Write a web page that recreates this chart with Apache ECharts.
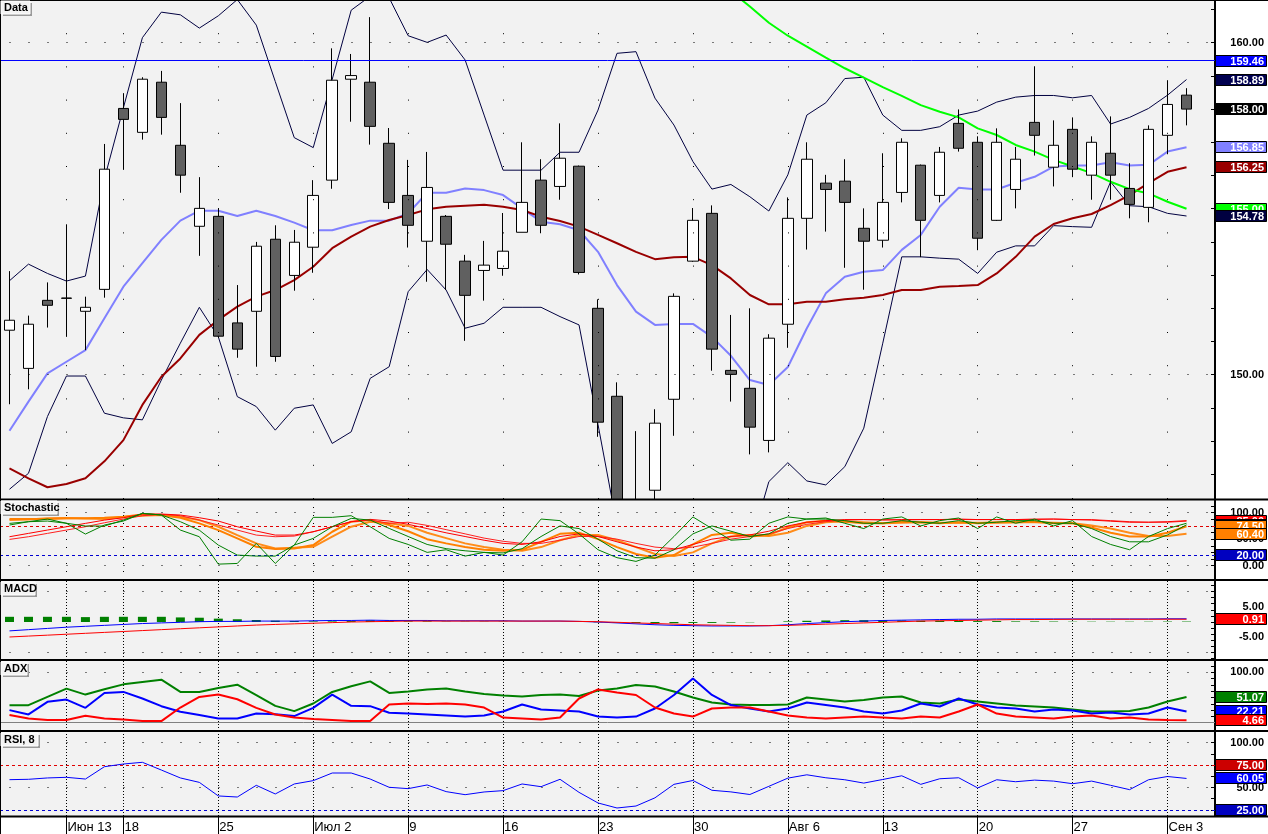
<!DOCTYPE html>
<html><head><meta charset="utf-8">
<script src="https://cdn.jsdelivr.net/npm/echarts@6/dist/echarts.min.js"></script>
<style>html,body{margin:0;padding:0;background:#fff}#c{width:1268px;height:834px}</style>
</head><body><div id="c"></div>
<script>
// ---------- DATA ----------
const dates = ['06-08','06-11','06-12','06-13','06-14','06-15','06-18','06-19','06-20','06-21','06-22','06-25','06-26','06-27','06-28','06-29',
'07-02','07-03','07-04','07-05','07-06','07-09','07-10','07-11','07-12','07-13','07-16','07-17','07-18','07-19','07-20','07-23','07-24','07-25','07-26','07-27','07-30','07-31',
'08-01','08-02','08-03','08-06','08-07','08-08','08-09','08-10','08-13','08-14','08-15','08-16','08-17','08-20','08-21','08-22','08-23','08-24','08-27','08-28','08-29','08-30','08-31',
'09-03','09-04'];
const tickIndex = [3,6,11,16,21,26,31,36,41,46,51,56,61];
const tickText  = ['Июн 13','18','25','Июл 2','9','16','23','30','Авг 6','13','20','27','Сен 3'];

const open  = [151.34,150.19,152.24,152.30,151.91,152.57,158.02,157.30,158.81,156.91,154.47,154.77,151.56,151.91,154.08,152.99,153.84,155.86,158.90,158.81,156.97,155.40,154.02,154.77,153.42,153.14,153.20,154.29,155.86,155.67,156.28,152.00,149.35,145.70,146.52,149.26,153.42,154.86,150.13,149.59,148.02,151.52,154.71,155.77,155.83,154.41,154.05,155.49,156.31,155.40,157.57,157.00,154.65,155.58,157.60,156.25,157.39,156.01,156.67,155.61,155.04,157.21,158.42];
const high  = [153.12,151.78,152.78,154.53,152.35,156.95,158.48,158.96,159.15,158.18,155.95,155.02,152.70,154.00,154.50,154.36,155.86,159.83,159.66,160.77,157.43,156.47,156.71,154.81,153.61,154.03,154.87,157.00,156.49,157.57,156.30,152.27,149.77,148.30,148.96,152.45,155.02,155.10,151.80,152.00,151.22,155.34,157.00,156.02,156.49,155.01,156.67,157.12,156.33,156.86,157.99,157.18,157.42,156.86,159.29,157.66,157.75,157.18,157.78,156.37,157.51,158.87,158.63];
const low   = [149.11,149.56,151.42,151.14,150.74,152.32,156.17,157.08,157.23,155.48,153.58,151.11,150.51,150.24,150.39,152.53,153.07,155.60,157.62,156.93,154.99,153.83,152.80,152.55,151.02,152.23,152.98,154.29,154.26,155.27,153.02,148.13,145.40,145.20,146.00,148.16,153.40,150.12,149.19,147.60,147.66,150.81,153.77,154.31,153.22,152.56,153.83,155.19,153.54,155.19,156.72,153.75,154.63,155.01,156.60,155.67,155.95,155.27,155.27,154.71,154.59,156.64,157.51];
const close = [151.64,151.52,152.09,152.31,152.03,156.19,157.69,158.90,157.75,156.01,155.01,151.16,150.77,153.87,150.55,153.99,155.40,158.87,159.01,157.48,155.19,154.50,155.64,153.93,152.39,153.30,153.72,155.19,154.50,156.52,153.08,148.57,145.90,146.10,148.54,152.36,154.65,150.77,150.01,148.42,151.10,154.71,156.49,155.58,155.19,154.02,155.19,157.00,154.65,156.70,156.82,154.11,157.00,156.49,157.21,156.91,156.19,157.00,156.01,155.13,157.39,158.14,158.00];

const bbUpper = [152.83,153.33,153.05,152.82,152.97,155.90,158.04,160.15,160.92,160.84,160.44,160.81,161.30,160.53,158.83,157.14,156.84,158.90,160.98,161.40,161.35,160.21,160.01,160.23,159.48,157.82,156.16,156.16,156.16,156.70,156.70,157.97,159.68,159.73,158.33,157.52,156.42,155.59,155.73,155.36,154.93,156.02,157.82,158.19,158.92,158.96,157.82,157.36,157.36,157.47,157.82,157.94,158.21,158.36,158.41,158.41,158.34,158.41,157.55,157.75,158.02,158.42,158.89];
const bbMiddle = [148.31,149.19,150.04,150.39,150.74,151.70,152.65,153.36,154.06,154.64,154.94,154.94,154.78,154.94,154.78,154.58,154.35,154.35,154.51,154.64,154.64,154.86,155.48,155.48,155.61,155.56,155.41,155.01,154.61,154.53,154.35,153.70,152.70,151.90,151.50,151.53,151.53,151.14,150.57,149.84,149.69,150.23,151.40,152.45,152.95,153.10,153.15,153.76,154.21,155.06,155.63,155.58,155.58,155.78,155.96,156.27,156.30,156.30,156.40,156.30,156.32,156.72,156.85];
const bbLower = [146.55,147.03,148.74,149.96,149.96,148.84,148.70,148.64,149.84,150.95,152.03,151.14,149.34,149.04,148.33,148.99,149.09,147.93,148.28,149.89,150.24,152.50,153.17,152.55,151.40,151.55,152.03,152.03,152.03,151.75,151.50,148.50,145.45,145.00,144.80,144.60,144.60,144.30,144.50,144.80,146.78,147.35,146.80,146.68,147.23,148.39,150.95,153.55,153.55,153.51,153.48,153.05,153.69,153.88,153.88,154.49,154.46,154.44,155.81,155.09,155.06,154.86,154.78];
const emaRed = [147.18,146.88,146.61,146.71,146.88,147.39,148.03,149.09,149.94,150.49,151.20,151.65,152.05,152.35,152.55,152.85,153.25,153.81,154.16,154.46,154.66,154.81,154.98,155.06,155.09,155.12,155.06,154.96,154.76,154.63,154.46,154.21,153.96,153.70,153.48,153.54,153.55,153.30,152.90,152.40,152.12,152.12,152.20,152.20,152.27,152.32,152.40,152.55,152.55,152.65,152.67,152.70,153.05,153.55,154.16,154.54,154.71,154.84,155.11,155.41,155.77,156.11,156.25];
const trendGreen = [null,null,null,null,null,null,null,null,null,null,null,null,null,null,null,null,null,null,null,null,null,null,null,null,null,null,null,null,null,null,null,null,null,null,null,null,162.60,162.05,161.55,161.09,160.60,160.21,159.88,159.55,159.23,158.95,158.66,158.40,158.12,157.92,157.75,157.42,157.22,156.92,156.72,156.47,156.27,156.07,155.81,155.59,155.46,155.21,155.00];
const levelBlue = 159.46;

const stochGreen1 = [76.7,83,88,80,59.6,76.7,84.2,98.7,95.6,67.2,54.6,2.8,4.1,42,4.1,38.8,91.2,91.2,94.3,73.5,51.4,40,25,30,18,25,20,45,88,85,60,30,15,8,20,55,92,70,48,50,80,92,88,90,80,70,88,92,75,85,90,70,92,80,88,75,85,55,40,30,55,70,80];
const stochGreen2 = [79.8,83,84.2,80,74.8,74.8,86,98.7,95.6,83,67,38.8,19.9,18,18,38.8,51.4,73.5,89.3,86,70.3,55,40,32,28,25,24,32,55,75,70,50,28,15,14,30,60,75,65,55,60,80,88,88,85,80,80,85,82,80,85,80,82,85,85,80,80,70,55,45,45,58,77];
const stochRed1 = [54.6,60.9,67.2,73.5,79.8,86,90.5,97.5,97.5,95.6,90.5,84.2,73.5,65.3,57.7,57.7,64,73.5,83,87.4,84.2,78,70,62,55,48,42,40,45,55,60,55,45,35,28,30,40,50,55,58,65,75,82,85,87,87,86,87,87,87,88,87,87,87,88,88,87,86,84,82,82,83,85];
const stochRed2 = [49.5,54.6,60.9,67.2,73.5,81,88,94.3,96.8,94.3,86,76.7,67.2,57.7,54.6,55.8,64,73.5,83,86,79.8,82,76,68,60,52,46,42,42,48,55,55,50,42,35,32,35,42,50,55,60,70,78,83,86,87,87,86,87,87,87,87,87,87,87,88,87,87,85,83,82,82,84];
const stochOrange1 = [88,88,88,89.3,89.3,90.5,92.4,96.8,95.6,90.5,79.8,67,51.4,35.6,31.2,32.5,38.8,64,83,86,76.7,65,50,42,35,30,28,30,45,60,62,50,35,22,15,20,40,58,62,55,58,72,82,85,83,80,80,83,82,80,82,80,82,82,83,80,80,72,62,55,55,62,74.5];
const stochOrange2 = [86,87,89.3,90,89,88,92,94.3,95.6,92,86,73.5,57.7,42,32.5,33.8,35.6,54.6,73.5,83,80,75,62,52,42,35,30,28,35,48,58,58,48,35,22,18,25,42,55,58,56,62,75,82,84,82,80,81,82,81,81,81,81,82,82,81,80,76,70,62,56,56,60.4];
const stochLevels = [75, 20];

const macdBlue = [-2.9,-2.5,-2.1,-1.7,-1.4,-1.1,-0.8,-0.5,-0.3,-0.1,0.1,0.2,0.2,0.3,0.3,0.3,0.4,0.5,0.5,0.6,0.5,0.5,0.5,0.4,0.4,0.4,0.4,0.3,0.3,0.3,0.2,0.0,-0.3,-0.6,-0.9,-1.1,-1.2,-1.3,-1.3,-1.3,-1.2,-0.9,-0.5,-0.2,0.1,0.3,0.5,0.6,0.7,0.8,0.9,0.9,1.0,1.0,1.0,1.0,1.0,1.0,1.0,1.0,1.0,1.05,1.05];
const macdRed = [-4.9,-4.6,-4.3,-4.0,-3.7,-3.4,-3.1,-2.8,-2.5,-2.2,-1.9,-1.6,-1.3,-1.0,-0.8,-0.6,-0.4,-0.2,0.0,0.1,0.2,0.3,0.3,0.3,0.3,0.3,0.3,0.3,0.3,0.3,0.2,0.1,-0.1,-0.3,-0.5,-0.7,-0.9,-1.0,-1.1,-1.2,-1.2,-1.1,-0.9,-0.7,-0.5,-0.3,-0.1,0.1,0.3,0.4,0.5,0.6,0.7,0.8,0.8,0.85,0.9,0.9,0.9,0.9,0.9,0.91,0.91];
const macdHist = [1.7,1.7,1.7,1.7,1.6,1.7,1.7,1.7,1.7,1.5,1.4,1.1,0.9,0.65,0.45,0.33,0.2,0.2,0.3,0.55,0.45,0.2,0.2,0.1,0.1,0.1,0.1,0.0,0.0,0.0,0.0,-0.1,-0.2,-0.3,-0.4,-0.4,-0.3,-0.3,-0.2,-0.1,0.0,0.2,0.4,0.5,0.6,0.6,0.6,0.5,0.4,0.4,0.4,0.3,0.3,0.2,0.2,0.15,0.1,0.1,0.1,0.1,0.1,0.14,0.14];

const adxGreen = [34.7,34.7,51.2,67.7,55.8,66.3,76.2,80.9,85.5,61.1,61.1,69,75.6,54.5,33.3,22.8,38,61.1,72.3,82.2,59.1,62,66,68,62,57,54,52,55,56,53,64,68,75,72,62,50,40,36,35,35,36,50,46,42,45,50,52,40,38,46,42,38,34,32,30,26,22,22,23,30,42,51.07];
const adxBlue = [24.8,16.2,41.3,45.9,29.4,59.1,61.1,47.9,32.7,21.5,14.9,8.3,8.3,18.2,16.8,12.9,29.4,55.8,33.3,32.7,19.5,18,16,14,12,14,22,36,26,24,22,12,10,12,28,55,88,55,35,28,22,28,40,35,30,22,18,24,38,32,48,36,30,28,22,26,24,18,20,16,18,30,22.21];
const adxRed = [14.9,8.3,5,5,13.5,8.3,6.3,3,3,30,51.2,55.8,46.5,29.4,16.2,10.2,6.9,5,3,3,36,38,37,38,36,30,10,8,6,10,48,66,60,55,30,18,12,28,30,30,22,14,10,8,10,12,10,8,12,10,22,36,18,12,10,8,12,14,8,10,6,5,4.66];

const rsi = [58.7,59.1,60.6,61.3,59.4,73.1,76.1,78,69.4,60.6,55.7,40.6,39.4,52.4,42.8,53.9,57.6,66.1,66.1,59.4,50.2,48.7,52.8,45.4,42,45,46.5,53.9,50.9,59.1,44.6,32.8,27.2,29.4,38.5,53.5,57.8,46.9,45.1,42.2,51.3,60.4,64.1,60.8,58.6,54.9,58.9,63,53.5,59.7,60.8,49.5,58.6,56.4,58.2,57.1,54.2,57.1,52.4,47.6,58.6,62.2,60.05];
const rsiLevels = [75, 25];

// ---------- LAYOUT ----------
const FONT = 'Liberation Sans';
const cats = dates.concat(['']);
const GL = -2.2, GR = 53;
const panels = [
  {top:0,   height:499, min:146.256, max:161.286, labels:[150,160], ticks:[147,148,149,150,151,152,153,154,155,156,157,158,159,160,161]},
  {top:500, height:80,  min:-27.2,  max:124.0,   labels:[0,50,100], ticks:[0,12.5,25,37.5,50,62.5,75,87.5,100,112.5]},
  {top:580, height:80,  min:-12.42, max:13.73,   labels:[-5,0,5], ticks:[-12,-10,-8,-6,-4,-2,0,2,4,6,8,10,12]},
  {top:660, height:71,  min:-16.8,  max:124.75,  labels:[0,50,100], ticks:[0,12.5,25,37.5,50,62.5,75,87.5,100,112.5]},
  {top:731, height:85,  min:18.3,   max:112.8,   labels:[50,100], ticks:[25,37.5,50,62.5,75,87.5,100,112.5]}
];
// sub-panel grids sit above the price panel so over-range candles are hidden under them
const grids = panels.map((p,k) => ({left:GL, right:GR, top:p.top, height:p.height, show:true, backgroundColor:'#f2f2f2', borderWidth:0, z: k===0 ? 0 : 4}));
const xAxes = panels.map((p,k) => {
  const last = k === panels.length-1;
  const isTick = (i) => tickIndex.indexOf(i) >= 0;
  return {type:'category', gridIndex:k, data:cats, boundaryGap:true, z: k===0?0:4,
    axisLine:{show:false},
    axisTick: last ? {show:true, alignWithLabel:true, interval:(i)=>isTick(i), length:18, lineStyle:{color:'#000', width:1}} : {show:false},
    axisLabel: last ? {show:true, interval:(i)=>isTick(i), formatter:(v,i)=>tickText[tickIndex.indexOf(i)] || '', align:'left', margin:5, padding:[0,0,0,1],
      color:'#000', fontFamily:FONT, fontSize:13} : {show:false},
    splitLine:{show:false}};
});
const yAxes = panels.map((p,k) => ({type:'value', gridIndex:k, position:'right', min:p.min, max:p.max, z: k===0?0:4,
  axisLine:{show:true, onZero:false, lineStyle:{color:'#000', width:2}},
  axisTick:{show:true, inside:true, length:4, customValues:p.ticks, lineStyle:{color:'#000'}},
  axisLabel:{show:true, customValues:p.labels, formatter:(v)=>v.toFixed(2), align:'right', margin:49, color:'#000', fontWeight:'bold', fontFamily:FONT, fontSize:11},
  splitLine:{show:false}}));

function weekLines(dash) {
  return tickIndex.map(i => ({xAxis: dates[i], lineStyle:{color:'#000', width:1, type:dash}}));
}
function hLines(vals) {
  return vals.map(v => ({yAxis:v, lineStyle:{color:'#000', width:1, type:[1,18], dashOffset:9.5}}));
}
const mlBase = {symbol:['none','none'], silent:true, label:{show:false}, animation:false};

const line = (name, data, k, color, width, extra) => Object.assign({
  type:'line', name, data, xAxisIndex:k, yAxisIndex:k, symbol:'none', showSymbol:false,
  lineStyle:{color, width}, itemStyle:{color}, animation:false, connectNulls:false, z: k===0 ? 3 : 6
}, extra||{});

const series = [
  {type:'candlestick', name:'Data', xAxisIndex:0, yAxisIndex:0, barWidth:11, animation:false, clip:true, z:3,
   data: open.map((o,i)=>[o, close[i], low[i], high[i]]),
   itemStyle:{color:'#ffffff', color0:'#606060', borderColor:'#000', borderColor0:'#000', borderWidth:1},
   markLine: Object.assign({}, mlBase, {data: weekLines([1,32.2]).concat(hLines([150,160])).concat([
     {yAxis:levelBlue, lineStyle:{color:'#0000ff', width:1, type:'solid'}}])})},
  line('BB upper', bbUpper, 0, '#000040', 1),
  line('BB lower', bbLower, 0, '#000040', 1),
  line('BB middle', bbMiddle, 0, '#8080ff', 2),
  line('EMA', emaRed, 0, '#990000', 2),
  line('Trend', trendGreen, 0, '#00ff00', 2),

  line('Stoch orange2', stochOrange2, 1, '#ff8c1a', 2, {markLine: Object.assign({}, mlBase, {data: weekLines([1,7]).concat(hLines([0,100])).concat([
     {yAxis:stochLevels[0], lineStyle:{color:'#e00000', width:1, type:[3,3]}},
     {yAxis:stochLevels[1], lineStyle:{color:'#0000d0', width:1, type:[3,3]}}])})}),
  line('Stoch orange1', stochOrange1, 1, '#ff8000', 2),
  line('Stoch red2', stochRed2, 1, '#ff2020', 1),
  line('Stoch red1', stochRed1, 1, '#ff0000', 1),
  line('Stoch green2', stochGreen2, 1, '#008000', 1),
  line('Stoch green1', stochGreen1, 1, '#008000', 1),

  {type:'bar', name:'MACD hist', data:macdHist, xAxisIndex:2, yAxisIndex:2, barWidth:9, itemStyle:{color:'#008000'}, animation:false, z:5,
   markLine: Object.assign({}, mlBase, {data: weekLines([1,2]).concat(hLines([-10,10]))})},
  line('MACD', macdBlue, 2, '#0000ff', 1),
  line('Signal', macdRed, 2, '#ff0000', 1),

  line('ADX', adxGreen, 3, '#008000', 2, {markLine: Object.assign({}, mlBase, {data: weekLines([1,2]).concat(hLines([100])).concat([
     {yAxis:0, lineStyle:{color:'#808080', width:1, type:'solid'}}])})}),
  line('DI+', adxBlue, 3, '#0000ff', 2),
  line('DI-', adxRed, 3, '#ff0000', 2),

  line('RSI', rsi, 4, '#0000ff', 1, {markLine: Object.assign({}, mlBase, {data: weekLines([1,2]).concat(hLines([50,100])).concat([
     {yAxis:rsiLevels[0], lineStyle:{color:'#e00000', width:1, type:[3,3]}},
     {yAxis:rsiLevels[1], lineStyle:{color:'#0000d0', width:1, type:[3,3]}}])})})
];

const chart = echarts.init(document.getElementById('c'), null, {renderer:'canvas', width:1268, height:834});
chart.setOption({animation:false, grid:grids, xAxis:xAxes, yAxis:yAxes, series});

// ---------- overlay: frames, panel captions, value boxes ----------
const last = dates.length - 1;
const g = [];
const seps = [0.5, 499.5, 580, 660, 731, 816.5];
seps.forEach((y,i) => g.push({type:'line', shape:{x1:0, y1:y, x2:1268, y2:y}, style:{stroke:'#000', lineWidth: i===0?1:2}, z:50}));
g.push({type:'line', shape:{x1:0.5, y1:0, x2:0.5, y2:834}, style:{stroke:'#000', lineWidth:1}, z:50});

function caption(text, x, y, w) {
  g.push({type:'rect', shape:{x:x+2, y:y+2, width:w, height:13}, style:{fill:'#9a9a9a'}, z:60});
  g.push({type:'rect', shape:{x:x, y:y, width:w, height:13}, style:{fill:'#f4f4f4', stroke:'#ffffff', lineWidth:1}, z:61});
  g.push({type:'text', x:x+3, y:y+7, style:{text, font:'bold 11px "'+FONT+'"', fill:'#000', verticalAlign:'middle'}, z:62});
}
caption('Data', 1, 1, 29);
caption('Stochastic', 1, 501, 56);
caption('MACD', 1, 582, 34);
caption('ADX', 1, 662, 26);
caption('RSI, 8', 1, 733, 37);

let bz = 70;
function box(k, value, fill, text) {
  const y = chart.convertToPixel({gridIndex:k}, [0, value])[1];
  g.push({type:'rect', shape:{x:1215.5, y:Math.round(y)-5.5, width:51, height:11}, style:{fill, stroke:'#000', lineWidth:1}, z:bz++});
  g.push({type:'text', x:1264, y:Math.round(y)+0.5, style:{text: text!=null?text:value.toFixed(2), font:'bold 11px "'+FONT+'"', fill:'#fff', align:'right', verticalAlign:'middle'}, z:bz++});
}
box(0, levelBlue, '#0000ff');
box(0, bbUpper[last], '#000050');
box(0, close[last], '#000000');
box(0, bbMiddle[last], '#8080ff');
box(0, emaRed[last], '#990000');
box(0, trendGreen[last], '#00ff00');
box(0, bbLower[last], '#000040');

box(1, stochRed1[last], '#ff0000');
box(1, stochGreen2[last], '#008000');
box(1, stochOrange1[last], '#ff8000');
box(1, stochOrange2[last], '#ff8000');
box(1, stochLevels[1], '#0000c0');

box(2, macdRed[last], '#ff0000');

box(3, adxGreen[last], '#008000');
box(3, adxBlue[last], '#0000ff');
box(3, adxRed[last], '#ff0000');

box(4, rsiLevels[0], '#cc0000');
box(4, rsi[last], '#0000ff');
box(4, rsiLevels[1], '#0000c0');

chart.setOption({graphic: g});
</script></body></html>
